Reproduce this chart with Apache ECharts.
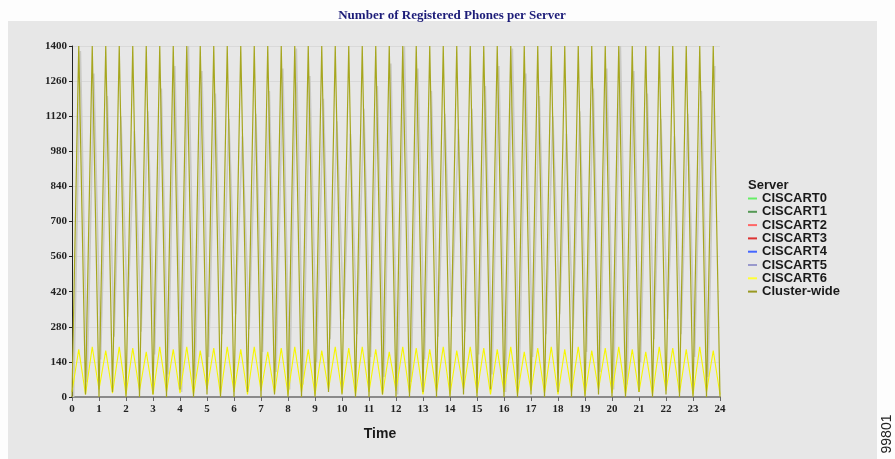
<!DOCTYPE html>
<html>
<head>
<meta charset="utf-8">
<title>Number of Registered Phones per Server</title>
<script src="https://cdn.jsdelivr.net/npm/echarts@6/dist/echarts.min.js"></script>
<style>
  html, body { margin: 0; padding: 0; background: #fdfdfd; }
  #chart { width: 895px; height: 459px; }
</style>
</head>
<body>
<div id="chart"></div>
<script>
// hours of the day, sampled every quarter hour
var hours = [
  0, 0.25, 0.5, 0.75, 1, 1.25, 1.5, 1.75,
  2, 2.25, 2.5, 2.75, 3, 3.25, 3.5, 3.75,
  4, 4.25, 4.5, 4.75, 5, 5.25, 5.5, 5.75,
  6, 6.25, 6.5, 6.75, 7, 7.25, 7.5, 7.75,
  8, 8.25, 8.5, 8.75, 9, 9.25, 9.5, 9.75,
  10, 10.25, 10.5, 10.75, 11, 11.25, 11.5, 11.75,
  12, 12.25, 12.5, 12.75, 13, 13.25, 13.5, 13.75,
  14, 14.25, 14.5, 14.75, 15, 15.25, 15.5, 15.75,
  16, 16.25, 16.5, 16.75, 17, 17.25, 17.5, 17.75,
  18, 18.25, 18.5, 18.75, 19, 19.25, 19.5, 19.75,
  20, 20.25, 20.5, 20.75, 21, 21.25, 21.5, 21.75,
  22, 22.25, 22.5, 22.75, 23, 23.25, 23.5, 23.75,
  24
];
// CISCART5 is sampled a little later than the others
var hours5 = [
  0.06, 0.31, 0.56, 0.81, 1.06, 1.31, 1.56, 1.81,
  2.06, 2.31, 2.56, 2.81, 3.06, 3.31, 3.56, 3.81,
  4.06, 4.31, 4.56, 4.81, 5.06, 5.31, 5.56, 5.81,
  6.06, 6.31, 6.56, 6.81, 7.06, 7.31, 7.56, 7.81,
  8.06, 8.31, 8.56, 8.81, 9.06, 9.31, 9.56, 9.81,
  10.06, 10.31, 10.56, 10.81, 11.06, 11.31, 11.56, 11.81,
  12.06, 12.31, 12.56, 12.81, 13.06, 13.31, 13.56, 13.81,
  14.06, 14.31, 14.56, 14.81, 15.06, 15.31, 15.56, 15.81,
  16.06, 16.31, 16.56, 16.81, 17.06, 17.31, 17.56, 17.81,
  18.06, 18.31, 18.56, 18.81, 19.06, 19.31, 19.56, 19.81,
  20.06, 20.31, 20.56, 20.81, 21.06, 21.31, 21.56, 21.81,
  22.06, 22.31, 22.56, 22.81, 23.06, 23.31, 23.56, 23.81
];

var clusterWide = [
  0, 1400, 10, 1400, 0, 1400, 20, 1400,
  0, 1400, 0, 1400, 10, 1400, 0, 1400,
  30, 1400, 0, 1400, 10, 1400, 0, 1400,
  0, 1400, 20, 1400, 0, 1400, 10, 1400,
  0, 1400, 0, 1400, 0, 1400, 20, 1400,
  10, 1400, 0, 1400, 0, 1400, 10, 1400,
  0, 1400, 0, 1400, 20, 1400, 0, 1400,
  0, 1400, 10, 1400, 0, 1400, 30, 1400,
  0, 1400, 0, 1400, 10, 1400, 0, 1400,
  20, 1400, 0, 1400, 0, 1400, 10, 1400,
  0, 1400, 0, 1400, 20, 1400, 0, 1400,
  10, 1400, 0, 1400, 0, 1400, 0, 1400,
  0
];
var ciscart5 = [
  0, 1380, 60, 1290, 150, 1200, 240, 1120,
  320, 1060, 260, 1140, 170, 1230, 90, 1320,
  20, 1400, 70, 1300, 160, 1210, 250, 1110,
  330, 1040, 270, 1130, 180, 1220, 100, 1310,
  30, 1390, 50, 1280, 140, 1190, 230, 1100,
  310, 1050, 250, 1150, 160, 1240, 80, 1330,
  10, 1400, 60, 1310, 150, 1220, 240, 1130,
  320, 1070, 260, 1150, 170, 1240, 90, 1320,
  20, 1390, 70, 1290, 160, 1200, 250, 1120,
  330, 1050, 270, 1140, 180, 1230, 100, 1310,
  30, 1400, 50, 1300, 140, 1210, 230, 1110,
  310, 1040, 250, 1130, 160, 1220, 80, 1320
];
var ciscart6 = [
  20, 190, 10, 200, 30, 185, 15, 200,
  10, 195, 25, 180, 10, 200, 20, 190,
  15, 200, 10, 185, 30, 195, 10, 200,
  20, 190, 10, 200, 25, 180, 15, 195,
  10, 200, 20, 190, 10, 185, 30, 200,
  15, 195, 10, 200, 20, 190, 10, 180,
  25, 200, 15, 195, 10, 190, 20, 200,
  10, 185, 30, 200, 15, 195, 10, 190,
  20, 200, 10, 180, 25, 195, 15, 200,
  10, 190, 20, 200, 10, 185, 30, 195,
  15, 200, 10, 190, 20, 180, 10, 200,
  25, 195, 15, 190, 10, 200, 20, 185,
  10
];
// CISCART0..4 are hidden under the other lines in the picture
var ciscart0 = [];
var ciscart1 = [];
var ciscart2 = [];
var ciscart3 = [];
var ciscart4 = [];

var servers = ['CISCART0', 'CISCART1', 'CISCART2', 'CISCART3', 'CISCART4', 'CISCART5', 'CISCART6', 'Cluster-wide'];
var legendColors = ['#66ee66', '#559955', '#ff6666', '#dd3333', '#4466ff', '#9999cc', '#ffff33', '#999922'];
var lineColors = ['#66ee66', '#559955', '#ff6666', '#dd3333', '#4466ff', '#c9c9c4', '#f6f600', '#a6a61e'];

function pairs(xs, ys) {
  var out = [];
  for (var i = 0; i < ys.length; i++) out.push([xs[i], ys[i]]);
  return out;
}

var seriesData = [
  pairs(hours, ciscart0),
  pairs(hours, ciscart1),
  pairs(hours, ciscart2),
  pairs(hours, ciscart3),
  pairs(hours, ciscart4),
  pairs(hours5, ciscart5),
  pairs(hours, ciscart6),
  pairs(hours, clusterWide)
];
var lineWidths = [1, 1, 1, 1, 1, 1.6, 1.1, 1.2];

var chart = echarts.init(document.getElementById('chart'));
chart.setOption({
  animation: false,
  backgroundColor: '#fdfdfd',
  title: {
    text: 'Number of Registered Phones per Server',
    left: 447,
    top: 4,
    textAlign: 'center',
    textStyle: { fontFamily: 'Liberation Serif', fontWeight: 'bold', fontSize: 13, color: '#1c1c78' }
  },
  graphic: [
    { type: 'rect', z: -10, shape: { x: 8, y: 21, width: 869, height: 438 }, style: { fill: '#e7e7e7' } },
    { type: 'text', left: 748, top: 179,
      style: { text: 'Server', font: 'bold 13px "Liberation Sans"', fill: '#1a1a1a' } },
    { type: 'text', x: 380, y: 434,
      style: { text: 'Time', font: 'bold 14px "Liberation Sans"', fill: '#1a1a1a', textAlign: 'center', textVerticalAlign: 'middle' } },
    { type: 'text', x: 887, y: 434, rotation: Math.PI / 2,
      style: { text: '99801', font: '14px "Liberation Sans"', fill: '#222', textAlign: 'center', textVerticalAlign: 'middle' } }
  ],
  legend: {
    orient: 'vertical',
    left: 748,
    top: 192,
    icon: 'rect',
    itemWidth: 9,
    itemHeight: 2,
    itemGap: 0.3,
    itemTextGap: 4,
    padding: 0,
    textStyle: { fontFamily: 'Liberation Sans', fontWeight: 'bold', fontSize: 13, lineHeight: 13, color: '#1a1a1a' },
    data: servers.map(function (s, i) {
      return { name: s, itemStyle: { color: legendColors[i] } };
    })
  },
  grid: { left: 72, right: 175, top: 46, bottom: 62 },
  xAxis: {
    type: 'value',
    min: 0,
    max: 24,
    interval: 1,
    axisLine: { lineStyle: { color: '#8a8a8a', width: 2 } },
    axisTick: { length: 4, lineStyle: { color: '#666' } },
    axisLabel: { margin: 7, fontFamily: 'Liberation Serif', fontWeight: 'bold', fontSize: 11, color: '#222' },
    splitLine: { show: false }
  },
  yAxis: {
    type: 'value',
    min: 0,
    max: 1400,
    interval: 140,
    axisLine: { show: true, lineStyle: { color: '#222', width: 1 } },
    axisTick: { show: true, length: 3, lineStyle: { color: '#222' } },
    axisLabel: {
      margin: 5, fontFamily: 'Liberation Serif', fontWeight: 'bold', fontSize: 11, color: '#222',
      formatter: function (v) { return String(v); }
    },
    splitLine: { show: true, lineStyle: { color: '#d9d9d9', width: 1 } }
  },
  series: servers.map(function (s, i) {
    return {
      name: s,
      type: 'line',
      data: seriesData[i],
      showSymbol: false,
      clip: true,
      color: lineColors[i],
      lineStyle: { color: lineColors[i], width: lineWidths[i] },
      emphasis: { disabled: true }
    };
  })
});
</script>
</body>
</html>
